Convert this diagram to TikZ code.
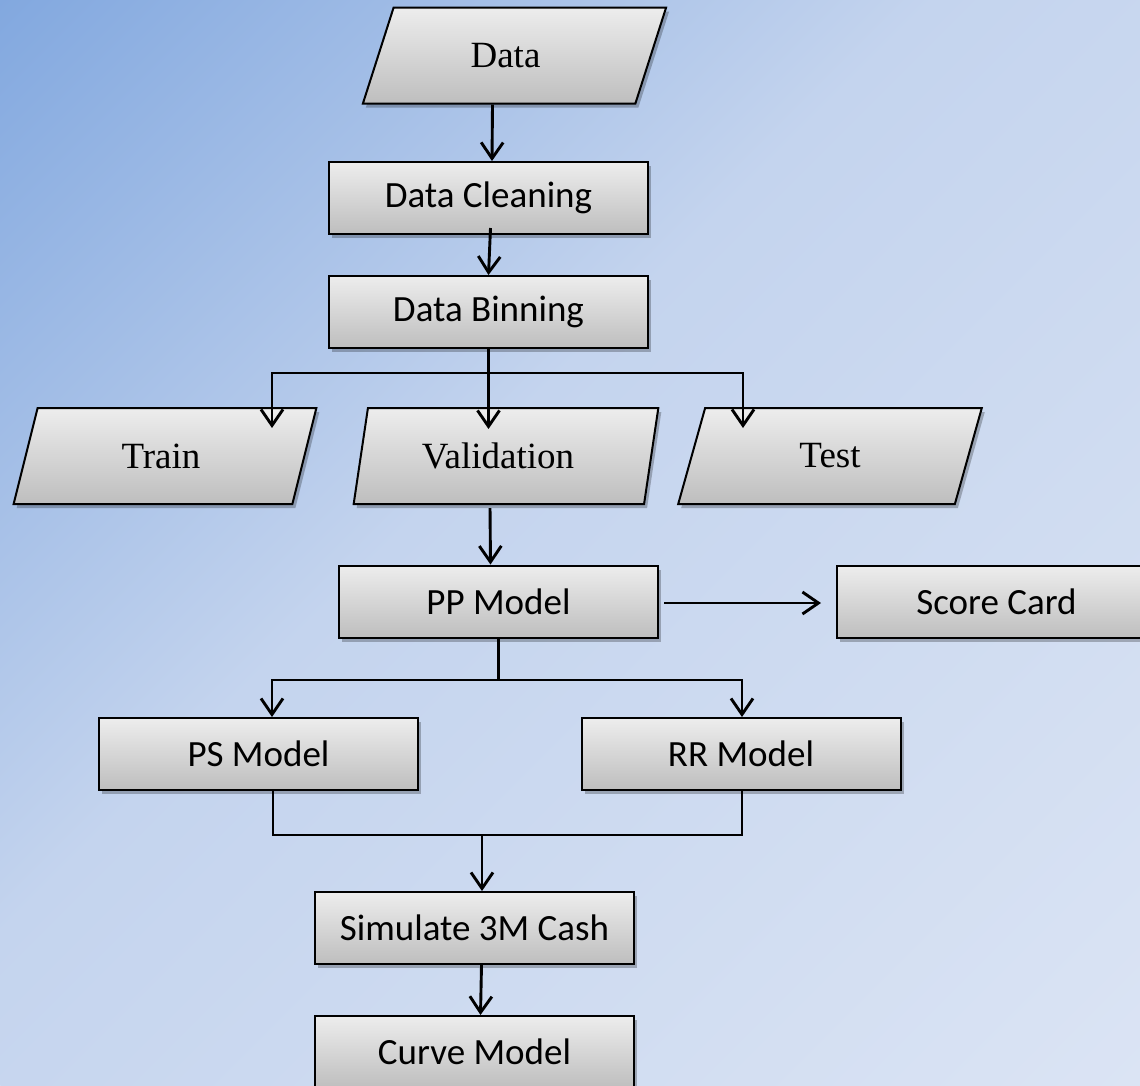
\documentclass[tikz,border=0pt]{standalone}
\usepackage{fontspec}
\setmainfont{Liberation Serif}
\newfontfamily\calfont{Carlito}
\usetikzlibrary{shapes.geometric,arrows.meta,shadows,calc}
\definecolor{bgA}{RGB}{130,168,223}
\definecolor{bgB}{RGB}{196,212,238}
\definecolor{bgC}{RGB}{219,228,244}
\definecolor{boxtop}{RGB}{237,237,237}
\definecolor{boxbot}{RGB}{190,190,190}
\pgfdeclareverticalshading{bgshade}{100bp}{color(0bp)=(bgC); color(25bp)=(bgC); color(54bp)=(bgB); color(75bp)=(bgA); color(100bp)=(bgA)}
\tikzset{
  shadowed/.style={drop shadow={shadow xshift=3pt,shadow yshift=-4pt,opacity=0.25,fill=black}},
  procbox/.style={rectangle, draw=black, line width=2pt, top color=boxtop, bottom color=boxbot,
    minimum width=319pt, minimum height=72pt, inner sep=0pt, shadowed,
    font=\calfont\fontsize{37}{44}\selectfont},
  iobox/.style={trapezium, trapezium left angle=75, trapezium right angle=105, trapezium stretches=true,
    draw=black, line width=2pt, top color=boxtop, bottom color=boxbot,
    minimum width=305pt, minimum height=96pt, inner sep=0pt, shadowed,
    font=\fontsize{37}{44}\selectfont},
  ln/.style={line width=2.9pt, draw=black},
  arr/.style={ln, -{Straight Barb[length=16pt,width=22pt]}},
}
\begin{document}
\begin{tikzpicture}[x=1pt,y=-1pt]
\useasboundingbox (0pt,0pt) rectangle (1140pt,-1085pt);
\begin{scope}
\clip (0pt,0pt) rectangle (1140pt,-1085pt);
\shade[transform canvas={shift={(570pt,-542.5pt)},rotate=45}, shading=bgshade]
  (-787pt,-787pt) rectangle (787pt,787pt);
\end{scope}

\node[iobox] (data) at (514.5,55.5) {\hspace*{-18pt}Data};
\node[procbox] (clean) at (488.5,198) {Data Cleaning};
\node[procbox] (bin) at (488.5,312) {Data Binning};
\node[iobox] (train) at (165,456) {\hspace*{-8pt}Train};
\node[iobox] (valid) at (506,456) {\hspace*{-16pt}Validation};
\node[iobox] (test) at (830,456) {Test};
\node[procbox] (pp) at (498.5,601.5) {PP Model};
\node[procbox] (score) at (996.5,602) {Score Card};
\node[procbox] (ps) at (258.5,754) {PS Model};
\node[procbox] (rr) at (741,754) {RR Model};
\node[procbox] (sim) at (474.5,928) {Simulate 3M Cash};
\node[procbox] (curve) at (474.5,1052) {Curve Model};

\coordinate (sL) at (272,373);
\coordinate (sR) at (743,373);
\coordinate (tL) at (272,680);
\coordinate (tR) at (742,680);
\coordinate (mL) at (273,835);
\coordinate (mR) at (742,835);
\coordinate (mC) at (482,835);

\draw[arr] ($(data.south)+(-22,0)$) -- ($(clean.north)+(3.5,0)$);
\draw[arr] ($(clean.south)+(2,-7)$) -- ($(bin.north)+(0,0)$);
\draw[arr] (bin.south) -- ($(valid.north -| bin.south)+(0,22)$);
\draw[arr] (bin.south |- sL) -- (sL) -- ($(train.north -| sL)+(0,21)$);
\draw[arr] (bin.south |- sR) -- (sR) -- ($(test.north -| sR)+(0,21)$);
\draw[arr] ($(valid.south)+(-16,3)$) -- ($(pp.north)+(-8,0)$);
\draw[arr] ($(pp.east)+(5,1.5)$) -- ($(score.west)+(-15,1)$);
\draw[ln] (pp.south) -- (pp.south |- tL);
\draw[arr] (pp.south |- tL) -- (tL) -- (ps.north -| tL);
\draw[arr] (pp.south |- tR) -- (tR) -- (rr.north -| tR);
\draw[ln] (ps.south -| mL) -- (mL) -- (mR) -- (rr.south -| mR);
\draw[arr] (mC) -- (sim.north -| mC);
\draw[arr] ($(sim.south)+(7,0)$) -- ($(curve.north)+(6,0)$);
\end{tikzpicture}
\end{document}
